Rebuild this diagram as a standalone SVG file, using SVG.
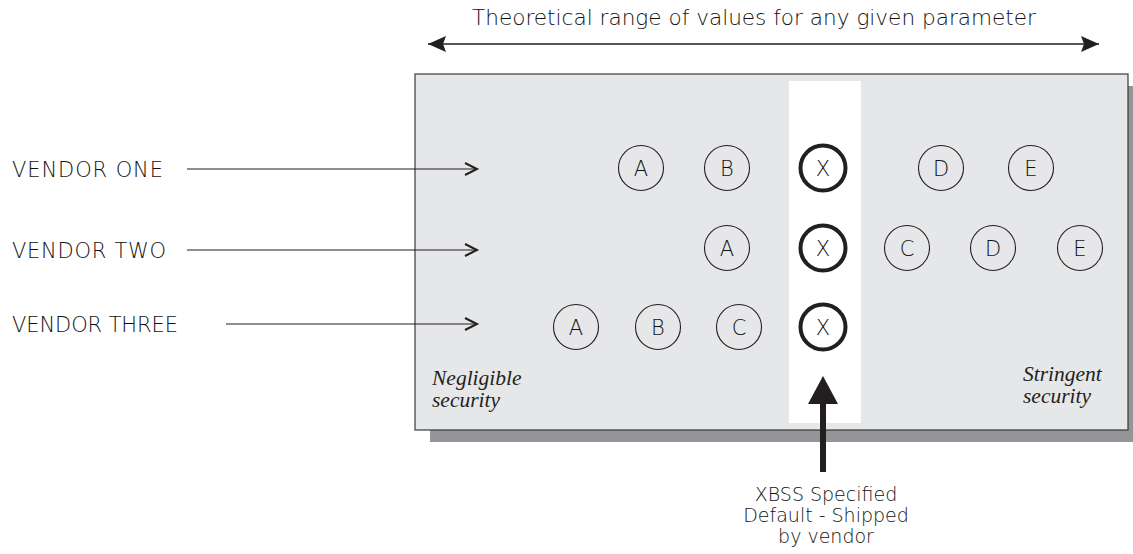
<svg xmlns="http://www.w3.org/2000/svg" width="1133" height="554" viewBox="0 0 1133 554">
  <style>
    .sans { font-family: "DejaVu Sans", "Liberation Sans", sans-serif; font-weight: 300; fill: #111111; }
    .lbl { font-size: 21px; }
    .ser { font-family: "Liberation Serif", "Times New Roman", serif; font-style: italic; font-size: 21.5px; fill: #231f20; }
    .c { fill: none; stroke: #231f20; stroke-width: 1.1; }
    .cx { fill: #ffffff; stroke: #231f20; stroke-width: 4; }
    .ct { font-family: "DejaVu Sans", "Liberation Sans", sans-serif; font-weight: 300; font-size: 21px; fill: #111111; text-anchor: middle; }
    .bt { font-family: "DejaVu Sans", "Liberation Sans", sans-serif; font-weight: 300; font-size: 19px; fill: #111111; text-anchor: middle; }
    .vline { fill: none; stroke: #231f20; stroke-width: 1.1; }
    .chev { fill: none; stroke: #231f20; stroke-width: 2; stroke-linejoin: miter; }
  </style>
  <defs>
    <marker id="tri" viewBox="0 0 18 16" refX="18" refY="8" markerWidth="18" markerHeight="16" markerUnits="userSpaceOnUse" orient="auto-start-reverse">
      <path d="M0,0 L18,8 L0,16 L3,8 Z" fill="#231f20"/>
    </marker>
  </defs>

  <rect width="1133" height="554" fill="#ffffff"/>

  <!-- title -->
  <g id="title">
    <text class="sans" x="472" y="25" font-size="21.5" textLength="564" lengthAdjust="spacingAndGlyphs">Theoretical range of values for any given parameter</text>
  </g>

  <!-- panel -->
  <g id="panel">
    <rect x="430" y="86" width="713" height="356" fill="#939598"/>
    <rect x="415" y="74" width="713" height="356" fill="#e6e7e8" stroke="#3a3a3a" stroke-width="1.2"/>
    <rect x="789" y="81" width="72" height="342" fill="#ffffff"/>
    <text class="ser" x="432" y="385">Negligible</text>
    <text class="ser" x="432" y="407">security</text>
    <text class="ser" x="1023" y="381">Stringent</text>
    <text class="ser" x="1023" y="403">security</text>
  </g>

  <!-- vendor labels -->
  <g id="vendor-one"><text class="sans lbl" x="12" y="177" textLength="151" lengthAdjust="spacing">VENDOR ONE</text></g>
  <g id="vendor-two"><text class="sans lbl" x="12" y="258" textLength="154" lengthAdjust="spacing">VENDOR TWO</text></g>
  <g id="vendor-three"><text class="sans lbl" x="12" y="332" textLength="166" lengthAdjust="spacing">VENDOR THREE</text></g>

  <!-- row 1 -->
  <g id="r1-a"><circle class="c" cx="641" cy="168" r="22.5"/><text class="ct" x="641" y="175.5">A</text></g>
  <g id="r1-b"><circle class="c" cx="727" cy="168" r="22.5"/><text class="ct" x="727" y="175.5">B</text></g>
  <g id="r1-x"><circle class="cx" cx="823" cy="168" r="22.5"/><text class="ct" x="823" y="175.5">X</text></g>
  <g id="r1-d"><circle class="c" cx="941" cy="168" r="22.5"/><text class="ct" x="941" y="175.5">D</text></g>
  <g id="r1-e"><circle class="c" cx="1031" cy="168" r="22.5"/><text class="ct" x="1031" y="175.5">E</text></g>

  <!-- row 2 -->
  <g id="r2-a"><circle class="c" cx="727" cy="248" r="22.5"/><text class="ct" x="727" y="255.5">A</text></g>
  <g id="r2-x"><circle class="cx" cx="823" cy="248" r="22.5"/><text class="ct" x="823" y="255.5">X</text></g>
  <g id="r2-c"><circle class="c" cx="907" cy="248" r="22.5"/><text class="ct" x="907" y="255.5">C</text></g>
  <g id="r2-d"><circle class="c" cx="993" cy="248" r="22.5"/><text class="ct" x="993" y="255.5">D</text></g>
  <g id="r2-e"><circle class="c" cx="1080" cy="248" r="22.5"/><text class="ct" x="1080" y="255.5">E</text></g>

  <!-- row 3 -->
  <g id="r3-a"><circle class="c" cx="576" cy="327" r="22.5"/><text class="ct" x="576" y="334.5">A</text></g>
  <g id="r3-b"><circle class="c" cx="658" cy="327" r="22.5"/><text class="ct" x="658" y="334.5">B</text></g>
  <g id="r3-c"><circle class="c" cx="739" cy="327" r="22.5"/><text class="ct" x="739" y="334.5">C</text></g>
  <g id="r3-x"><circle class="cx" cx="823" cy="327" r="22.5"/><text class="ct" x="823" y="334.5">X</text></g>

  <!-- callout label -->
  <g id="xbss-label">
    <text class="bt" x="826" y="501">XBSS Specified</text>
    <text class="bt" x="826" y="522">Default - Shipped</text>
    <text class="bt" x="826" y="543">by vendor</text>
  </g>

  <!-- connectors -->
  <g id="connectors">
    <line x1="428" y1="44" x2="1099" y2="44" stroke="#231f20" stroke-width="1.5" marker-start="url(#tri)" marker-end="url(#tri)"/>
    <line class="vline" x1="187" y1="169" x2="476" y2="169"/>
    <path class="chev" d="M465,163 L477,169 L465,175"/>
    <line class="vline" x1="187" y1="250" x2="476" y2="250"/>
    <path class="chev" d="M465,244 L477,250 L465,256"/>
    <line class="vline" x1="226" y1="324" x2="476" y2="324"/>
    <path class="chev" d="M465,318 L477,324 L465,330"/>
    <rect x="820" y="400" width="6" height="72" fill="#231f20"/>
    <path d="M823,376 L838,404 L808,404 Z" fill="#231f20"/>
  </g>
</svg>
